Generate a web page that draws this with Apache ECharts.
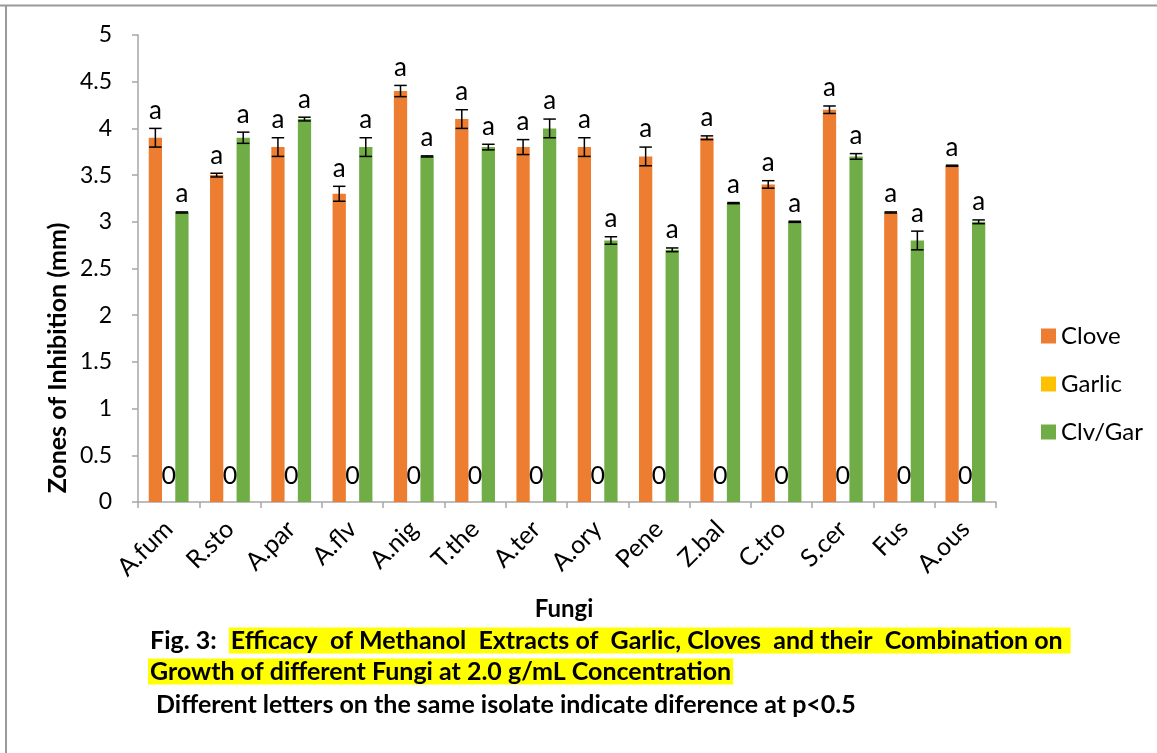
<!DOCTYPE html>
<html>
<head>
<meta charset="utf-8">
<script src="https://cdn.jsdelivr.net/npm/echarts@6/dist/echarts.min.js"></script>
<style>
  html, body { margin: 0; padding: 0; background: #fff; }
  #chart { width: 1157px; height: 753px; }
</style>
</head>
<body>
<div id="chart"></div>
<script>
// Fungal isolates tested
const categories = ['A.fum', 'R.sto', 'A.par', 'A.flv', 'A.nig', 'T.the', 'A.ter',
                    'A.ory', 'Pene', 'Z.bal', 'C.tro', 'S.cer', 'Fus', 'A.ous'];

// Zones of inhibition (mm) with standard errors
const clove      = [3.9, 3.5, 3.8, 3.3, 4.4, 4.1, 3.8, 3.8, 3.7, 3.9, 3.4, 4.2, 3.1, 3.6];
const cloveErr   = [0.1, 0.02, 0.1, 0.08, 0.06, 0.1, 0.08, 0.1, 0.1, 0.02, 0.04, 0.04, 0.006, 0.006];
const garlic     = [0, 0, 0, 0, 0, 0, 0, 0, 0, 0, 0, 0, 0, 0];
const clvGar     = [3.1, 3.9, 4.1, 3.8, 3.7, 3.8, 4.0, 2.8, 2.7, 3.2, 3.0, 3.7, 2.8, 3.0];
const clvGarErr  = [0.006, 0.06, 0.02, 0.1, 0.006, 0.03, 0.1, 0.04, 0.02, 0.006, 0.006, 0.03, 0.1, 0.02];

// Significance letters
const cloveLetters  = ['a', 'a', 'a', 'a', 'a', 'a', 'a', 'a', 'a', 'a', 'a', 'a', 'a', 'a'];
const clvGarLetters = ['a', 'a', 'a', 'a', 'a', 'a', 'a', 'a', 'a', 'a', 'a', 'a', 'a', 'a'];

// Axis ticks
const yMin = 0, yMax = 5, yStep = 0.5;

const seriesNames = ['Clove', 'Garlic', 'Clv/Gar'];
const colors = ['#ED7D31', '#FFC000', '#70AD47'];

const FONT = 'Lato, "Open Sans", sans-serif';
const CAT_GAP = 0.35;   // share of a category left empty
const N_BARS = 3;

// error bar + letter drawn at the centre of a given bar within its category
function errorRenderer(slot) {
  return function (params, api) {
    const band = api.size([1, 0])[0];
    const bw = band * (1 - CAT_GAP) / N_BARS;
    const off = (slot - (N_BARS - 1) / 2) * bw;
    const idx = api.value(0), v = api.value(1), e = api.value(2);
    const x = api.coord([idx, v])[0] + off;
    const yTop = api.coord([idx, v + e])[1];
    const yBot = api.coord([idx, v - e])[1];
    const half = bw * 0.47;
    const ls = { stroke: '#000', lineWidth: 1.5 };
    return {
      type: 'group',
      children: [
        { type: 'line', shape: { x1: x, y1: yTop, x2: x, y2: yBot }, style: ls },
        { type: 'line', shape: { x1: x - half, y1: yTop, x2: x + half, y2: yTop }, style: ls },
        { type: 'line', shape: { x1: x - half, y1: yBot, x2: x + half, y2: yBot }, style: ls },
        { type: 'text', style: {
            text: api.value(3), x: x, y: yTop - 5,
            align: 'center', verticalAlign: 'bottom',
            fontSize: 26, fontFamily: FONT, fill: '#000'
        } }
      ]
    };
  };
}

function errData(vals, errs, letters) {
  return vals.map((v, i) => [i, v, errs[i], letters[i]]);
}

const chart = echarts.init(document.getElementById('chart'), null, { renderer: 'canvas' });

const capStyle = { fontFamily: FONT, fontWeight: 'bold', fontSize: 25, fill: '#000' };

chart.setOption({
  animation: false,
  backgroundColor: '#fff',
  grid: { left: 138, right: 161, top: 35, bottom: 251, containLabel: false },
  legend: {
    orient: 'vertical',
    left: 1036, top: 319,
    itemWidth: 15, itemHeight: 15, itemGap: 24,
    icon: 'rect',
    data: seriesNames,
    textStyle: { fontFamily: FONT, fontSize: 24, color: '#000' }
  },
  xAxis: {
    type: 'category',
    data: categories,
    axisLine: { lineStyle: { color: '#a6a6a6', width: 1.5 } },
    axisTick: { show: true, length: 6, lineStyle: { color: '#a6a6a6', width: 1.5 } },
    axisLabel: { rotate: 45, margin: 23, fontFamily: FONT, fontSize: 25, color: '#000' }
  },
  yAxis: {
    type: 'value',
    min: yMin, max: yMax, interval: yStep,
    splitLine: { show: false },
    axisLine: { show: true, lineStyle: { color: '#a6a6a6', width: 1.5 } },
    axisTick: { show: true, length: 6, lineStyle: { color: '#a6a6a6', width: 1.5 } },
    axisLabel: { margin: 26, fontFamily: FONT, fontSize: 23, color: '#000' }
  },
  series: [
    { name: seriesNames[0], type: 'bar', data: clove, itemStyle: { color: colors[0] },
      barGap: '0%', barCategoryGap: (CAT_GAP * 100) + '%' },
    { name: seriesNames[1], type: 'bar', data: garlic, itemStyle: { color: colors[1] },
      barGap: '0%', barCategoryGap: (CAT_GAP * 100) + '%',
      label: { show: true, position: 'top', distance: 14, fontFamily: FONT, fontSize: 25, color: '#000' } },
    { name: seriesNames[2], type: 'bar', data: clvGar, itemStyle: { color: colors[2] },
      barGap: '0%', barCategoryGap: (CAT_GAP * 100) + '%' },
    { type: 'custom', renderItem: errorRenderer(0), data: errData(clove, cloveErr, cloveLetters),
      encode: { x: 0, y: 1 }, z: 5, silent: true },
    { type: 'custom', renderItem: errorRenderer(2), data: errData(clvGar, clvGarErr, clvGarLetters),
      encode: { x: 0, y: 1 }, z: 5, silent: true }
  ],
  graphic: [
    // page frame
    { type: 'line', shape: { x1: 0, y1: 5.5, x2: 1157, y2: 5.5 }, style: { stroke: '#9a9a9a', lineWidth: 2 } },
    { type: 'line', shape: { x1: 6, y1: 5, x2: 6, y2: 753 }, style: { stroke: '#9a9a9a', lineWidth: 2 } },
    // axis titles
    { type: 'text', x: 58, y: 358, rotation: Math.PI / 2,
      style: { text: 'Zones of Inhibition (mm)', align: 'center', verticalAlign: 'middle',
               fontFamily: FONT, fontWeight: 'bold', fontSize: 25, fill: '#000' } },
    { type: 'text', x: 564, y: 609,
      style: { text: 'Fungi', align: 'center', verticalAlign: 'middle',
               fontFamily: FONT, fontWeight: 'bold', fontSize: 24, fill: '#000' } },
    // caption (first line spread out to the full column width)
    { type: 'text', x: 150, y: 626,
      style: {
        text: '{b|Fig. 3:  }{h|Efficacy  of Methanol  Extracts of  Garlic, Cloves  and their  Combination on}',
        rich: {
          b: Object.assign({}, capStyle, { lineHeight: 29 }),
          h: Object.assign({}, capStyle, { lineHeight: 29, backgroundColor: '#ffff00', padding: [1, 8, 0, 2] })
        }
      } },
    { type: 'text', x: 148, y: 657,
      style: {
        text: '{h|Growth of different Fungi at 2.0 g/mL Concentration}',
        rich: {
          h: Object.assign({}, capStyle, { lineHeight: 29, backgroundColor: '#ffff00', padding: [1, 2, 0, 2] })
        }
      } },
    { type: 'text', x: 156, y: 692,
      style: { text: 'Different letters on the same isolate indicate diference at p<0.5',
               fontFamily: FONT, fontWeight: 'bold', fontSize: 25, fill: '#000' } }
  ]
});
</script>
</body>
</html>
